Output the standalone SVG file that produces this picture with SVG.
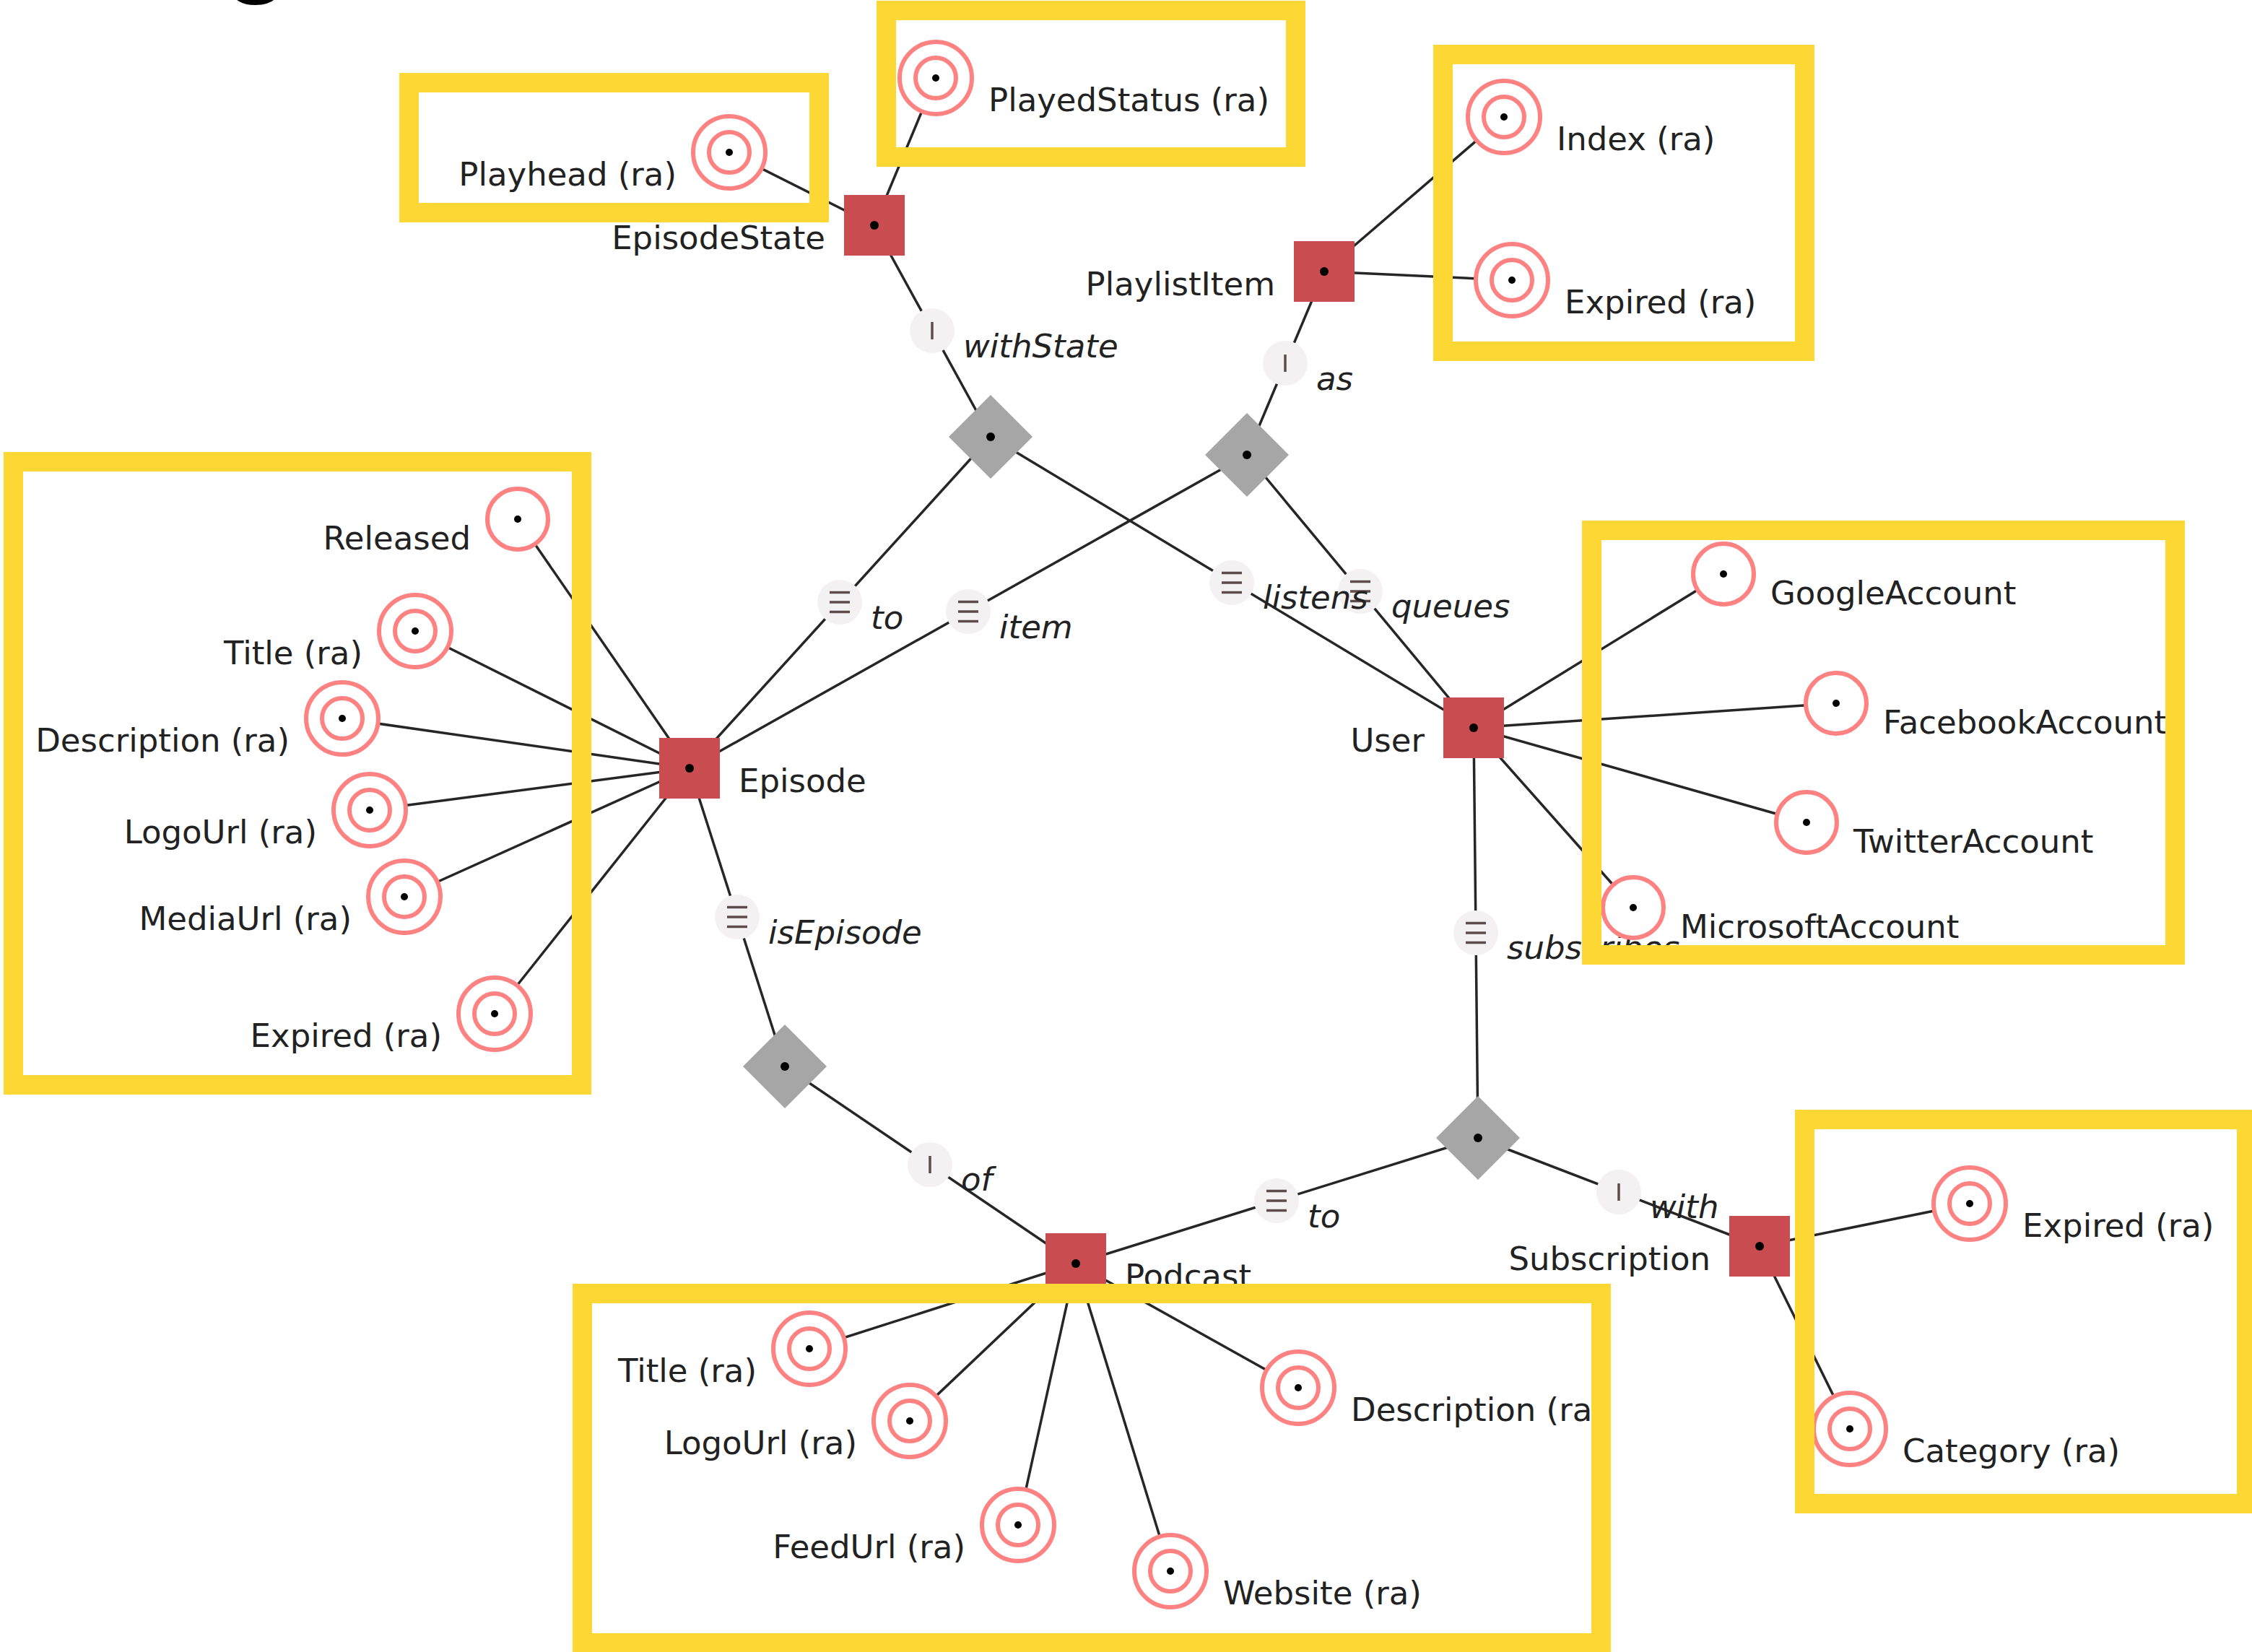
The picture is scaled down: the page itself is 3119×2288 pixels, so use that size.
<svg xmlns="http://www.w3.org/2000/svg" xmlns:xlink="http://www.w3.org/1999/xlink" width="3119" height="2288" viewBox="0 0 3119 2288">
  <style>
    .edge { stroke: #262626; stroke-width: 3.5; fill: none; }
    .entity { fill: #c94c50; }
    .rel { fill: #a6a6a6; }
    .dot { fill: #000; }
    .attr-ring { fill: #fff; stroke: #ff8282; stroke-width: 6; }
    .attr-inner { fill: none; stroke: #ff8282; stroke-width: 6; }
    .badge-bg { fill: #f3f1f1; }
    .badge-mark { stroke: #5e4b4b; stroke-width: 3.5; fill: none; }
    .lbl { font-family: "DejaVu Sans", Verdana, sans-serif; font-size: 45px; fill: #222; }
    .role { font-family: "DejaVu Sans", Verdana, sans-serif; font-size: 45px; font-style: italic; fill: #222; }
    .end { text-anchor: end; }
    .hl { fill: none; stroke: #fdd835; stroke-width: 27; }
    .title { font-family: "Liberation Sans", Arial, sans-serif; font-weight: bold; font-size: 150px; fill: #000; }
  </style>
  <defs>
    <g id="badge-many">
      <circle class="badge-bg" r="31"/>
      <path class="badge-mark" d="M-14 -13.5H14M-14 0H14M-14 13.5H14"/>
    </g>
    <g id="badge-one">
      <circle class="badge-bg" r="31"/>
      <path class="badge-mark" d="M0 -12V12"/>
    </g>
    <g id="entity-box">
      <rect class="entity" x="-42" y="-42" width="84" height="84"/>
      <circle class="dot" r="6"/>
    </g>
    <g id="rel-diamond">
      <polygon class="rel" points="0,-58 58,0 0,58 -58,0"/>
      <circle class="dot" r="6"/>
    </g>
    <g id="attr-one">
      <circle class="attr-ring" r="42"/>
      <circle class="dot" r="5"/>
    </g>
    <g id="attr-ra">
      <circle class="attr-ring" r="50"/>
      <circle class="attr-inner" r="28"/>
      <circle class="dot" r="5"/>
    </g>
  </defs>

  <rect width="3119" height="2288" fill="#fff"/>

  <!-- heading, mostly above the page edge -->
  <text class="title" x="310" y="-25">g</text>

  <!-- connectors -->
  <g id="connectors">
    <line class="edge" x1="1211" y1="312" x2="1010" y2="211"/>
    <line class="edge" x1="1211" y1="312" x2="1296" y2="108"/>
    <line class="edge" x1="1211" y1="312" x2="1372" y2="605"/>
    <line class="edge" x1="1372" y1="605" x2="955" y2="1064"/>
    <line class="edge" x1="1372" y1="605" x2="2041" y2="1008"/>
    <line class="edge" x1="1834" y1="376" x2="2083" y2="162"/>
    <line class="edge" x1="1834" y1="376" x2="2094" y2="388"/>
    <line class="edge" x1="1834" y1="376" x2="1727" y2="630"/>
    <line class="edge" x1="1727" y1="630" x2="955" y2="1064"/>
    <line class="edge" x1="1727" y1="630" x2="2041" y2="1008"/>
    <line class="edge" x1="955" y1="1064" x2="717" y2="719"/>
    <line class="edge" x1="955" y1="1064" x2="575" y2="874"/>
    <line class="edge" x1="955" y1="1064" x2="474" y2="995"/>
    <line class="edge" x1="955" y1="1064" x2="512" y2="1122"/>
    <line class="edge" x1="955" y1="1064" x2="560" y2="1242"/>
    <line class="edge" x1="955" y1="1064" x2="685" y2="1404"/>
    <line class="edge" x1="955" y1="1064" x2="1087" y2="1477"/>
    <line class="edge" x1="1087" y1="1477" x2="1490" y2="1750"/>
    <line class="edge" x1="1490" y1="1750" x2="2047" y2="1576"/>
    <line class="edge" x1="2047" y1="1576" x2="2041" y2="1008"/>
    <line class="edge" x1="2047" y1="1576" x2="2437" y2="1726"/>
    <line class="edge" x1="2041" y1="1008" x2="2387" y2="795"/>
    <line class="edge" x1="2041" y1="1008" x2="2543" y2="974"/>
    <line class="edge" x1="2041" y1="1008" x2="2502" y2="1139"/>
    <line class="edge" x1="2041" y1="1008" x2="2262" y2="1257"/>
    <line class="edge" x1="2437" y1="1726" x2="2728" y2="1667"/>
    <line class="edge" x1="2437" y1="1726" x2="2562" y2="1979"/>
    <line class="edge" x1="1490" y1="1750" x2="1121" y2="1868"/>
    <line class="edge" x1="1490" y1="1750" x2="1260" y2="1968"/>
    <line class="edge" x1="1490" y1="1750" x2="1410" y2="2112"/>
    <line class="edge" x1="1490" y1="1750" x2="1621" y2="2176"/>
    <line class="edge" x1="1490" y1="1750" x2="1798" y2="1922"/>

    <!-- role badges and role names -->
    <use xlink:href="#badge-one" x="1291" y="458"/>
    <text class="role" x="1334" y="495">withState</text>
    <use xlink:href="#badge-many" x="1163" y="834"/>
    <text class="role" x="1206" y="871">to</text>
    <use xlink:href="#badge-many" x="1706" y="807"/>
    <use xlink:href="#badge-one" x="1780" y="503"/>
    <text class="role" x="1823" y="540">as</text>
    <use xlink:href="#badge-many" x="1341" y="847"/>
    <text class="role" x="1384" y="884">item</text>
    <use xlink:href="#badge-many" x="1884" y="819"/>
    <text class="role" x="1749" y="843">listens</text>
    <text class="role" x="1927" y="855">queues</text>
    <use xlink:href="#badge-many" x="1021" y="1270"/>
    <text class="role" x="1064" y="1307">isEpisode</text>
    <use xlink:href="#badge-one" x="1288" y="1613"/>
    <text class="role" x="1331" y="1649">of</text>
    <use xlink:href="#badge-many" x="1768" y="1663"/>
    <text class="role" x="1811" y="1700">to</text>
    <use xlink:href="#badge-many" x="2044" y="1292"/>
    <text class="role" x="2087" y="1328">subscribes</text>
    <use xlink:href="#badge-one" x="2242" y="1651"/>
    <text class="role" x="2285" y="1687">with</text>
  </g>

  <!-- relationships -->
  <g id="rel-withState"><use xlink:href="#rel-diamond" x="1372" y="605"/></g>
  <g id="rel-playlist"><use xlink:href="#rel-diamond" x="1727" y="630"/></g>
  <g id="rel-isEpisode"><use xlink:href="#rel-diamond" x="1087" y="1477"/></g>
  <g id="rel-subscribes"><use xlink:href="#rel-diamond" x="2047" y="1576"/></g>

  <!-- entities -->
  <g id="EpisodeState"><use xlink:href="#entity-box" x="1211" y="312"/><text class="lbl end" x="1143" y="345">EpisodeState</text></g>
  <g id="PlaylistItem"><use xlink:href="#entity-box" x="1834" y="376"/><text class="lbl end" x="1766" y="409">PlaylistItem</text></g>
  <g id="Episode"><use xlink:href="#entity-box" x="955" y="1064"/><text class="lbl" x="1023" y="1097">Episode</text></g>
  <g id="User"><use xlink:href="#entity-box" x="2041" y="1008"/><text class="lbl end" x="1973" y="1041">User</text></g>
  <g id="Podcast"><use xlink:href="#entity-box" x="1490" y="1750"/><text class="lbl" x="1558" y="1783">Podcast</text></g>
  <g id="Subscription"><use xlink:href="#entity-box" x="2437" y="1726"/><text class="lbl end" x="2369" y="1759">Subscription</text></g>

  <!-- attributes -->
  <g id="EpisodeState-Playhead"><use xlink:href="#attr-ra" x="1010" y="211"/><text class="lbl end" x="937" y="257">Playhead (ra)</text></g>
  <g id="EpisodeState-PlayedStatus"><use xlink:href="#attr-ra" x="1296" y="108"/><text class="lbl" x="1369" y="154">PlayedStatus (ra)</text></g>
  <g id="PlaylistItem-Index"><use xlink:href="#attr-ra" x="2083" y="162"/><text class="lbl" x="2156" y="208">Index (ra)</text></g>
  <g id="PlaylistItem-Expired"><use xlink:href="#attr-ra" x="2094" y="388"/><text class="lbl" x="2167" y="434">Expired (ra)</text></g>

  <g id="Episode-Released"><use xlink:href="#attr-one" x="717" y="719"/><text class="lbl end" x="652" y="761">Released</text></g>
  <g id="Episode-Title"><use xlink:href="#attr-ra" x="575" y="874"/><text class="lbl end" x="502" y="920">Title (ra)</text></g>
  <g id="Episode-Description"><use xlink:href="#attr-ra" x="474" y="995"/><text class="lbl end" x="401" y="1041">Description (ra)</text></g>
  <g id="Episode-LogoUrl"><use xlink:href="#attr-ra" x="512" y="1122"/><text class="lbl end" x="439" y="1168">LogoUrl (ra)</text></g>
  <g id="Episode-MediaUrl"><use xlink:href="#attr-ra" x="560" y="1242"/><text class="lbl end" x="487" y="1288">MediaUrl (ra)</text></g>
  <g id="Episode-Expired"><use xlink:href="#attr-ra" x="685" y="1404"/><text class="lbl end" x="612" y="1450">Expired (ra)</text></g>

  <g id="User-GoogleAccount"><use xlink:href="#attr-one" x="2387" y="795"/><text class="lbl" x="2452" y="837">GoogleAccount</text></g>
  <g id="User-FacebookAccount"><use xlink:href="#attr-one" x="2543" y="974"/><text class="lbl" x="2608" y="1016">FacebookAccount</text></g>
  <g id="User-TwitterAccount"><use xlink:href="#attr-one" x="2502" y="1139"/><text class="lbl" x="2567" y="1181">TwitterAccount</text></g>
  <g id="User-MicrosoftAccount"><use xlink:href="#attr-one" x="2262" y="1257"/><text class="lbl" x="2327" y="1299">MicrosoftAccount</text></g>

  <g id="Subscription-Expired"><use xlink:href="#attr-ra" x="2728" y="1667"/><text class="lbl" x="2801" y="1713">Expired (ra)</text></g>
  <g id="Subscription-Category"><use xlink:href="#attr-ra" x="2562" y="1979"/><text class="lbl" x="2635" y="2025">Category (ra)</text></g>

  <g id="Podcast-Title"><use xlink:href="#attr-ra" x="1121" y="1868"/><text class="lbl end" x="1048" y="1914">Title (ra)</text></g>
  <g id="Podcast-LogoUrl"><use xlink:href="#attr-ra" x="1260" y="1968"/><text class="lbl end" x="1187" y="2014">LogoUrl (ra)</text></g>
  <g id="Podcast-FeedUrl"><use xlink:href="#attr-ra" x="1410" y="2112"/><text class="lbl end" x="1337" y="2158">FeedUrl (ra)</text></g>
  <g id="Podcast-Website"><use xlink:href="#attr-ra" x="1621" y="2176"/><text class="lbl" x="1694" y="2222">Website (ra)</text></g>
  <g id="Podcast-Description"><use xlink:href="#attr-ra" x="1798" y="1922"/><text class="lbl" x="1871" y="1968">Description (ra)</text></g>

  <!-- highlight frames around attribute groups -->
  <g id="highlights">
    <rect class="hl" x="566.5" y="114.5" width="568" height="180"/>
    <rect class="hl" x="1227.5" y="14.5" width="567" height="203"/>
    <rect class="hl" x="1998.5" y="75.5" width="501" height="411"/>
    <rect class="hl" x="18.5" y="639.5" width="787" height="863"/>
    <rect class="hl" x="2204.5" y="734.5" width="808" height="588"/>
    <rect class="hl" x="806.5" y="1791.5" width="1411" height="484"/>
    <rect class="hl" x="2499.5" y="1550.5" width="612" height="532"/>
  </g>
</svg>
